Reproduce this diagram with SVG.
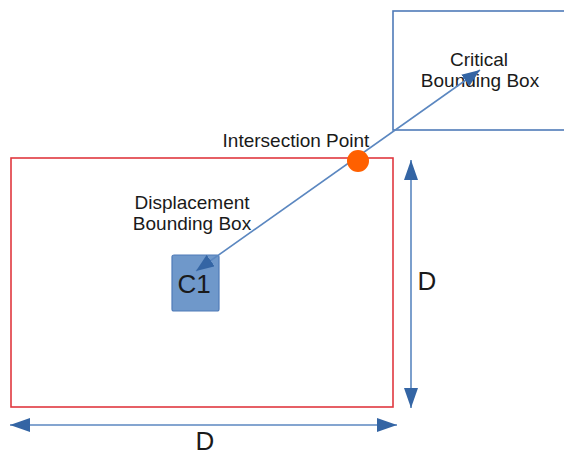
<svg xmlns="http://www.w3.org/2000/svg" width="564" height="453" viewBox="0 0 564 453">
<style>
.lbl{font-family:"Liberation Sans",Arial,sans-serif;font-size:19px;fill:#1a1a1a;text-anchor:middle}
.big{font-family:"Liberation Sans",Arial,sans-serif;font-size:26px;fill:#1a1a1a;text-anchor:middle}
.conn{stroke:#5b87c0;stroke-width:1.6;fill:none}
</style>
<defs>
<marker id="ah" viewBox="0 0 20 14" refX="20" refY="7" markerWidth="20" markerHeight="14" markerUnits="userSpaceOnUse" orient="auto-start-reverse">
<path d="M0,0 L20,7 L0,14 Z" fill="#3465a4"/>
</marker>
<marker id="ah2" viewBox="0 0 18 14" refX="18" refY="7" markerWidth="18" markerHeight="14" markerUnits="userSpaceOnUse" orient="auto-start-reverse">
<path d="M0,0 L18,7 L0,14 Z" fill="#3465a4"/>
</marker>
</defs>
<rect width="564" height="453" fill="#ffffff"/>
<g id="critical-box">
<rect x="393" y="11" width="180" height="119" fill="none" stroke="#4f7bb8" stroke-width="1.6"/>
<text class="lbl" x="479" y="66">Critical</text>
<text class="lbl" x="480" y="87">Bounding Box</text>
</g>
<g id="displacement-box">
<rect x="11" y="158" width="382" height="249" fill="none" stroke="#e0383f" stroke-width="1.6"/>
<text class="lbl" x="192" y="209">Displacement</text>
<text class="lbl" x="192" y="230">Bounding Box</text>
</g>
<g id="c1">
<rect x="172" y="255" width="47" height="56" rx="2" fill="#6f98ca" stroke="#4f7bb8" stroke-width="1.2"/>
<text class="big" x="194" y="293" font-size="30">C1</text>
</g>
<g id="connectors">
<line class="conn" x1="196" y1="271" x2="480" y2="70" marker-start="url(#ah2)" marker-end="url(#ah2)"/>
<line class="conn" x1="411" y1="160" x2="411" y2="408" marker-start="url(#ah)" marker-end="url(#ah)"/>
<line class="conn" x1="10" y1="425" x2="397" y2="425" marker-start="url(#ah)" marker-end="url(#ah)"/>
</g>
<g id="intersection-point">
<circle cx="358" cy="161" r="11" fill="#ff6000"/>
<text class="lbl" x="296" y="147">Intersection Point</text>
</g>
<g id="dims">
<text class="big" x="427" y="290">D</text>
<text class="big" x="205" y="450">D</text>
</g>
</svg>
